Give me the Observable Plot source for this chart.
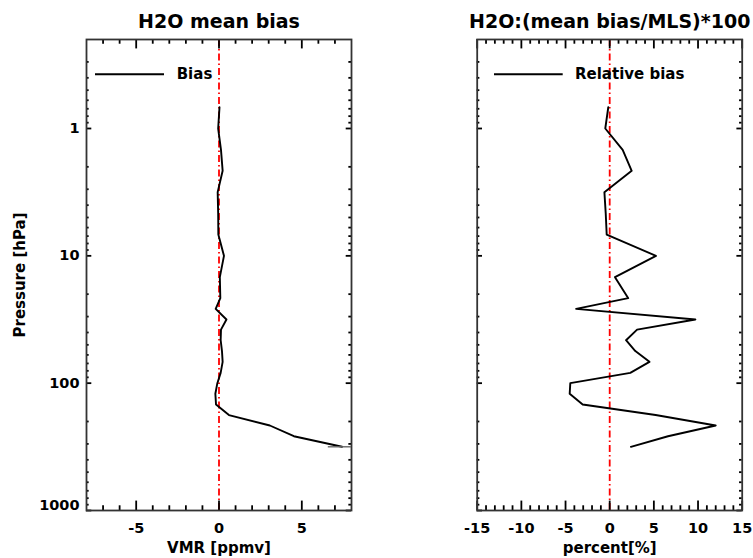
<!DOCTYPE html>
<html><head><meta charset="utf-8">
<script src="https://cdn.jsdelivr.net/npm/d3@7"></script>
<script src="https://cdn.jsdelivr.net/npm/@observablehq/plot@0.6"></script>
<style>
html,body{margin:0;padding:0;background:#fff;}
#wrap{display:flex;width:753px;height:558px;overflow:hidden;}
#wrap svg{display:block;}
</style></head><body><div id="wrap"></div>
<script>
// Pressure levels (hPa)
const levels = [316, 261, 215, 178, 147, 121, 100, 83, 68, 56, 46, 38, 31.6, 26.1, 21.5, 14.7, 10, 6.81, 4.64, 3.16, 2.15, 1.47, 1.0, 0.681];
// Mean bias (ppmv)
const bias = [7.43, 4.52, 3.07, 0.6, -0.18, -0.22, -0.1, 0.1, 0.22, 0.18, 0.1, 0.12, 0.45, -0.2, 0.08, 0.05, 0.3, -0.04, -0.05, -0.08, 0.22, 0.12, -0.05, 0.03];
// Relative bias (%)
const relBias = [2.4, 6.6, 12.0, 5.2, -3.06, -4.53, -4.46, 2.33, 4.5, 2.9, 1.85, 3.1, 9.7, -3.8, 2.1, 0.6, 5.24, -0.34, -0.45, -0.6, 2.49, 1.47, -0.5, -0.16];
// small horizontal bar at the lowest level of the left panel
const barLevel = [316];
const barLo = [6.6];
const barHi = [8];

// Tick values
const yMajor = [1, 10, 100, 1000];
const yMinor = [0.3,0.4,0.5,0.6,0.7,0.8,0.9, 2,3,4,5,6,7,8,9, 20,30,40,50,60,70,80,90, 200,300,400,500,600,700,800,900];
const yLabels = [1, 10, 100];
const yLabelsBottom = [1000];
const leftXMajor = [-5, 0, 5];
const leftXMinor = [-7,-6,-4,-3,-2,-1,1,2,3,4,6,7];
const rightXMajor = [-15, -10, -5, 0, 5, 10, 15];
const rightXMinor = [-14,-13,-12,-11,-9,-8,-7,-6,-4,-3,-2,-1,1,2,3,4,6,7,8,9,11,12,13,14];

const FONT = "DejaVu Sans";
const H = 558, MT = 39, MB = 48;

function panel(o) {
  const innerH = H - MT - MB;
  const innerW = o.width - o.ml - o.mr;
  const xMaj = 0.02 * innerH, xMin = xMaj / 2;
  const yMaj = 0.02 * innerW, yMin = yMaj / 2;
  const data = levels.map((p, i) => ({p, v: o.values[i]}));
  const tk = {stroke: "black", strokeWidth: 1.8};
  const marks = [
    Plot.ruleX([0], {stroke: "#f00", strokeWidth: 1.8, strokeDasharray: "7,3,1.5,3"}),
    Plot.line(data, {x: "v", y: "p", stroke: "black", strokeWidth: 1.9}),
    // inward ticks on all four sides
    Plot.ruleX(o.xMajor, {...tk, insetTop: innerH - xMaj}),
    Plot.ruleX(o.xMinor, {...tk, insetTop: innerH - xMin}),
    Plot.ruleX(o.xMajor, {...tk, insetBottom: innerH - xMaj}),
    Plot.ruleX(o.xMinor, {...tk, insetBottom: innerH - xMin}),
    Plot.ruleY(yMajor, {...tk, insetRight: innerW - yMaj}),
    Plot.ruleY(yMinor, {...tk, insetRight: innerW - yMin}),
    Plot.ruleY(yMajor, {...tk, insetLeft: innerW - yMaj}),
    Plot.ruleY(yMinor, {...tk, insetLeft: innerW - yMin}),
    Plot.frame({stroke: "#333", strokeWidth: 1.8}),
    Plot.axisX({anchor: "bottom", ticks: o.xMajor, tickSize: 0, tickPadding: 12, fontSize: 14.5, tickFormat: d => String(d), label: null}),
    Plot.text([o.title], {text: d => d, frameAnchor: "top", lineAnchor: "bottom", dy: -11.3, fontSize: 19}),
    Plot.text([o.xlabel], {text: d => d, frameAnchor: "bottom", lineAnchor: "bottom", dy: 42.6, fontSize: 15}),
    (index, scales, values, dims) => {
      const g = d3.create("svg:g");
      const y = dims.marginTop + 35.3;
      g.append("line")
        .attr("x1", dims.marginLeft + o.legLine[0]).attr("x2", dims.marginLeft + o.legLine[1])
        .attr("y1", y).attr("y2", y).attr("stroke", "black").attr("stroke-width", 1.9);
      g.append("text")
        .attr("x", dims.marginLeft + o.legText).attr("y", y + 4.3)
        .attr("text-anchor", "start")
        .attr("font-size", 15).attr("fill", "black").text(o.legend);
      return g.node();
    }
  ];
  if (o.bar) {
    marks.push(Plot.ruleY(barLevel.map((p, i) => ({p, lo: barLo[i], hi: barHi[i]})), {y: "p", x1: "lo", x2: "hi", stroke: "#666", strokeWidth: 1.4}));
  }
  if (o.ylabels) {
    marks.push(
      Plot.axisY({anchor: "left", ticks: yLabels, tickSize: 0, tickPadding: 7, fontSize: 14.5, tickFormat: d => String(d), label: null}),
      Plot.axisY({anchor: "left", ticks: yLabelsBottom, tickSize: 0, tickPadding: 7, fontSize: 14.5, dy: -5, tickFormat: d => String(d), label: null}),
      Plot.text([o.ylabel], {text: d => d, frameAnchor: "left", textAnchor: "middle", rotate: -90, dx: -66, fontSize: 15})
    );
  }
  return Plot.plot({
    width: o.width, height: H,
    marginLeft: o.ml, marginRight: o.mr, marginTop: MT, marginBottom: MB,
    style: {fontFamily: FONT, fontWeight: "bold", color: "black", background: "white", overflow: "visible"},
    x: {domain: o.xDomain, label: null, axis: null},
    y: {type: "log", domain: [0.2, 1000], reverse: true, label: null, axis: null},
    marks
  });
}

const wrap = document.getElementById("wrap");
wrap.appendChild(panel({
  width: 376, ml: 86, mr: 25, xDomain: [-8, 8],
  xMajor: leftXMajor, xMinor: leftXMinor, values: bias,
  title: "H2O mean bias", xlabel: "VMR [ppmv]", ylabel: "Pressure [hPa]",
  legend: "Bias", legLine: [9, 78], legText: 90.7, ylabels: true, bar: true
}));
wrap.appendChild(panel({
  width: 377, ml: 100.7, mr: 11.3, xDomain: [-15, 15],
  xMajor: rightXMajor, xMinor: rightXMinor, values: relBias,
  title: "H2O:(mean bias/MLS)*100", xlabel: "percent[%]",
  legend: "Relative bias", legLine: [17.3, 86], legText: 98.3, ylabels: false, bar: false
}));
</script></body></html>
